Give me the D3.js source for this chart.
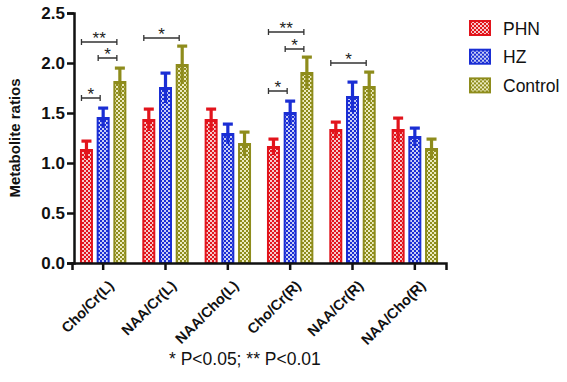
<!DOCTYPE html>
<html>
<head>
<meta charset="utf-8">
<script src="https://cdn.jsdelivr.net/npm/d3@7"></script>
<style>
  body { margin: 0; background: #fff; }
  svg { display: block; font-family: Arial, "Liberation Sans", sans-serif; }
</style>
</head>
<body>
<svg id="chart" width="567" height="382"></svg>
<script>
// data
const categories = ["Cho/Cr(L)", "NAA/Cr(L)", "NAA/Cho(L)", "Cho/Cr(R)", "NAA/Cr(R)", "NAA/Cho(R)"];
const groups = ["PHN", "HZ", "Control"];
const phnMean = [1.13, 1.43, 1.43, 1.16, 1.33, 1.33];
const phnErr = [0.09, 0.11, 0.11, 0.08, 0.08, 0.12];
const hzMean = [1.45, 1.75, 1.29, 1.50, 1.66, 1.26];
const hzErr = [0.10, 0.15, 0.10, 0.12, 0.15, 0.09];
const ctrlMean = [1.81, 1.98, 1.19, 1.90, 1.76, 1.14];
const ctrlErr = [0.14, 0.19, 0.12, 0.16, 0.15, 0.10];
const yTicks = [0, 0.5, 1.0, 1.5, 2.0, 2.5];
// significance brackets: category index, from group, to group, height, label
const sigCat = [0, 0, 0, 1, 3, 3, 3, 4];
const sigFrom = [0, 1, 0, 0, 0, 1, 0, 0];
const sigTo = [1, 2, 2, 2, 1, 2, 2, 2];
const sigY = [1.65, 2.05, 2.21, 2.25, 1.72, 2.14, 2.31, 2.0];
const sigText = ["*", "*", "**", "*", "*", "*", "**", "*"];
const footnote = "* P<0.05; ** P<0.01";

const colors = { PHN: "#e2141c", HZ: "#1a2ed4", Control: "#8e8c1c" };
const lights = { PHN: "#f6c9cb", HZ: "#c9cef6", Control: "#ecebc0" };

const svg = d3.select("#chart");
const left = 72;

const x = d3.scaleBand().domain(categories).range([left, 446]);
const y = d3.scaleLinear().domain([0, 2.5]).range([263, 13]);
const color = d3.scaleOrdinal().domain(groups).range(groups.map(g => colors[g]));

// checkered fills
const defs = svg.append("defs");
groups.forEach(g => {
  const p = defs.append("pattern")
    .attr("id", "pat-" + g)
    .attr("patternUnits", "userSpaceOnUse")
    .attr("width", 4).attr("height", 4);
  p.append("rect").attr("width", 4).attr("height", 4).attr("fill", lights[g]);
  p.append("rect").attr("width", 2).attr("height", 2).attr("fill", colors[g]);
  p.append("rect").attr("x", 2).attr("y", 2).attr("width", 2).attr("height", 2).attr("fill", colors[g]);
});

const series = [
  { key: "PHN", mean: phnMean, err: phnErr },
  { key: "HZ", mean: hzMean, err: hzErr },
  { key: "Control", mean: ctrlMean, err: ctrlErr }
];
const step = 16.7, barW = 11;
const cx = (ci, gi) => x(categories[ci]) + x.bandwidth() / 2 + (gi - 1) * step;

const bars = [];
series.forEach((s, gi) => {
  categories.forEach((c, ci) => bars.push({ g: s.key, gi, ci, v: s.mean[ci], e: s.err[ci] }));
});

// upper whiskers
svg.append("g").selectAll("g").data(bars).join("g").each(function(d) {
  const gEl = d3.select(this);
  const xc = cx(d.ci, d.gi);
  gEl.append("rect")
    .attr("x", xc - 1.6).attr("width", 3.2)
    .attr("y", y(d.v + d.e)).attr("height", y(d.v) - y(d.v + d.e))
    .attr("fill", color(d.g));
  gEl.append("rect")
    .attr("x", xc - 5).attr("width", 10)
    .attr("y", y(d.v + d.e) - 1.5).attr("height", 3.2)
    .attr("fill", color(d.g));
});

svg.append("g").selectAll("rect").data(bars).join("rect")
  .attr("x", d => cx(d.ci, d.gi) - barW / 2)
  .attr("width", barW)
  .attr("y", d => y(d.v))
  .attr("height", d => y(0) - y(d.v))
  .attr("fill", d => "url(#pat-" + d.g + ")")
  .attr("stroke", d => color(d.g))
  .attr("stroke-width", 2);

// lower whisker inside the bar
svg.append("g").selectAll("g").data(bars).join("g").each(function(d) {
  const gEl = d3.select(this);
  const xc = cx(d.ci, d.gi);
  gEl.append("rect")
    .attr("x", xc - 1.6).attr("width", 3.2)
    .attr("y", y(d.v)).attr("height", y(d.v - d.e) - y(d.v))
    .attr("fill", color(d.g));
  gEl.append("rect")
    .attr("x", xc - barW / 2).attr("width", barW)
    .attr("y", y(d.v) - 1).attr("height", 3)
    .attr("fill", color(d.g));
});

// axes
const yAxis = svg.append("g")
  .attr("transform", `translate(${left + 2},0)`)
  .call(d3.axisLeft(y).tickValues(yTicks).tickFormat(d3.format(".1f")).tickSize(7).tickPadding(2));
yAxis.select(".domain").attr("stroke", "#111").attr("stroke-width", 2.5);
yAxis.selectAll(".tick line").attr("stroke", "#111").attr("stroke-width", 2.5);
yAxis.selectAll("text")
  .attr("fill", "#111")
  .style("font-size", "17px")
  .style("font-weight", "bold");

const xAxis = svg.append("g")
  .attr("transform", `translate(0,${y(0)})`)
  .call(d3.axisBottom(x).tickSizeOuter(0).tickSize(7).tickPadding(4));
xAxis.select(".domain").attr("stroke", "#111").attr("stroke-width", 2.5);
xAxis.selectAll(".tick line").attr("stroke", "#111").attr("stroke-width", 2.5);
xAxis.selectAll("text")
  .attr("fill", "#111")
  .style("font-size", "14.5px")
  .style("font-weight", "bold")
  .attr("text-anchor", "end")
  .attr("x", 0).attr("y", 0).attr("dy", "0.35em")
  .attr("transform", "translate(8,20) rotate(-45)");

svg.append("text")
  .attr("transform", "rotate(-90)")
  .attr("x", -138)
  .attr("y", 20)
  .attr("text-anchor", "middle")
  .attr("fill", "#111")
  .style("font-size", "15px")
  .style("font-weight", "bold")
  .text("Metabolite ratios");

// significance brackets
const sig = svg.append("g").attr("stroke", "#333").attr("stroke-width", 1.3);
sigCat.forEach((ci, i) => {
  const x1 = cx(ci, sigFrom[i]) - 5, x2 = cx(ci, sigTo[i]) - 3, yy = y(sigY[i]);
  sig.append("path")
    .attr("fill", "none")
    .attr("d", `M${x1},${yy - 3}V${yy + 3}M${x1},${yy}H${x2}M${x2},${yy - 3}V${yy + 3}`);
  svg.append("text")
    .attr("x", (x1 + x2) / 2)
    .attr("y", yy + 2)
    .attr("text-anchor", "middle")
    .attr("fill", "#222")
    .style("font-size", "17px")
    .text(sigText[i]);
});

// legend
const legend = svg.append("g").attr("transform", "translate(470,21)");
const li = legend.selectAll("g").data(groups).join("g")
  .attr("transform", (d, i) => `translate(0,${i * 28.7})`);
li.append("rect")
  .attr("width", 20).attr("height", 14)
  .attr("fill", d => "url(#pat-" + d + ")")
  .attr("stroke", d => color(d))
  .attr("stroke-width", 2);
li.append("text")
  .attr("x", 33).attr("y", 13.5)
  .attr("fill", "#111")
  .style("font-size", "17.5px")
  .text(d => d);

svg.append("text")
  .attr("x", 169).attr("y", 365)
  .attr("fill", "#111")
  .style("font-size", "17.5px")
  .text(footnote);
</script>
</body>
</html>
